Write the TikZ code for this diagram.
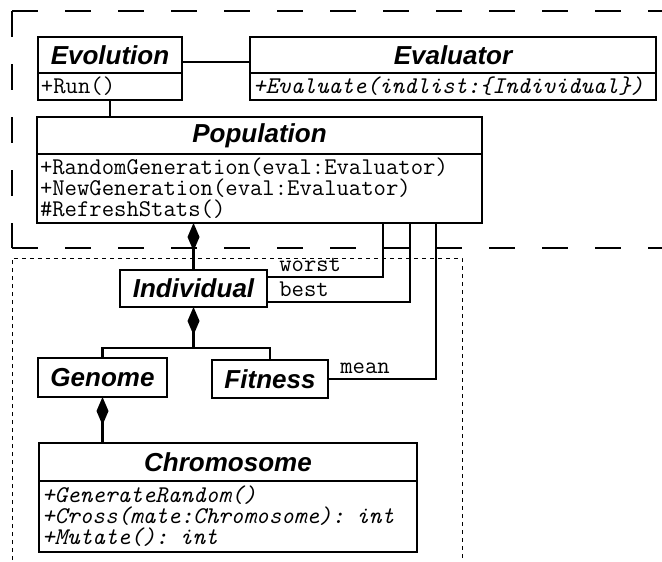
\documentclass[tikz,border=0pt]{standalone}
\usepackage{fontspec}
\newfontfamily\umlsansfam{Liberation Sans}
\usetikzlibrary{arrows.meta}
\newcommand{\umlhead}{\umlsansfam\bfseries\itshape\fontsize{26}{26}\selectfont}
\newcommand{\umlops}{\ttfamily\fontsize{24}{21}\selectfont}

\begin{document}
\begin{tikzpicture}[x=1pt, y=-1pt,
    classhead/.style={draw, line width=2.6pt, fill=white, font=\umlhead, inner sep=0pt, outer sep=0pt},
    classops/.style={draw, line width=2.6pt, fill=white, font=\umlops, align=left,
                     anchor=north, inner xsep=3pt, inner ysep=0pt, outer sep=0pt},
    assoc/.style={line width=2.6pt},
    rolename/.style={font=\umlops, anchor=south west, inner sep=0pt, xshift=11pt, yshift=4pt},
    layer/.style={line width=1.3pt, dash pattern=on 26pt off 27pt},
    package/.style={line width=1pt, dash pattern=on 4pt off 4pt},
    >={Diamond[length=28pt, width=12pt]}]
   \useasboundingbox (0,0) rectangle (662,562);

   % frames
   \draw[layer] (12,11) -- (700,11);
   \draw[layer] (12,11) -- (12,248);
   \draw[layer] (12,248) -- (700,248);
   \draw[package] (12,600) -- (12,258) -- (462,258) -- (462,600);

   % classes
   \node[classhead, minimum width=144pt, minimum height=36pt] (evol) at (110,55) {Evolution};
   \node[classops, text width=138pt, minimum height=27pt] (evolops) at (evol.south) {+Run()};
   \node[classhead, minimum width=406pt, minimum height=36pt] (evaltr) at (453,55) {Evaluator};
   \node[classops, text width=400pt, minimum height=27pt] (evaltrops) at (evaltr.south)
        {\itshape +Evaluate(indlist:\{Individual\})};
   \node[classhead, minimum width=445pt, minimum height=37pt] (pop) at (259.5,135.5) {Population};
   \node[classops, text width=439pt, minimum height=69pt] (popops) at (pop.south)
        {+RandomGeneration(eval:Evaluator)\\+NewGeneration(eval:Evaluator)\\\#RefreshStats()};
   \node[classhead, minimum width=147pt, minimum height=37pt] (ind) at (193.5,288.5) {Individual};
   \node[classhead, minimum width=129pt, minimum height=39pt] (gen) at (102.5,377.5) {Genome};
   \node[classhead, minimum width=116pt, minimum height=38pt] (fit) at (270,379) {Fitness};
   \node[classhead, minimum width=378pt, minimum height=38pt] (chrom) at (228,462) {Chromosome};
   \node[classops, text width=372pt, minimum height=71pt] (chromops) at (chrom.south)
        {\itshape +GenerateRandom()\\+Cross(mate:Chromosome): int\\+Mutate(): int};

   \coordinate (worstend) at (383,223);
   \coordinate (bestend)  at (410,223);
   \coordinate (meanend)  at (436,223);
   \coordinate (fork)     at (193.5,348);

   % associations
   \draw[assoc] ([yshift=-7pt]evol.east) to ([yshift=-7pt]evaltr.west);
   \draw[assoc] (evolops.south) to (evolops.south |- pop.north);
   \draw[assoc, ->] (ind.north) to (ind.north |- popops.south);
   \draw[assoc, <-] (ind.south) to (fork);
   \draw[assoc] (gen.north) |- (fork) -| (fit.north);
   \draw[assoc, <-] (gen.south) to (gen.south |- chrom.north);
   \draw[assoc] ([yshift=11.5pt]ind.east) node[rolename] {worst} -| (worstend);
   \draw[assoc] ([yshift=-13.5pt]ind.east) node[rolename] {best} -| (bestend);
   \draw[assoc] (fit.east) node[rolename] {mean} -| (meanend);
 \end{tikzpicture}
\end{document}
